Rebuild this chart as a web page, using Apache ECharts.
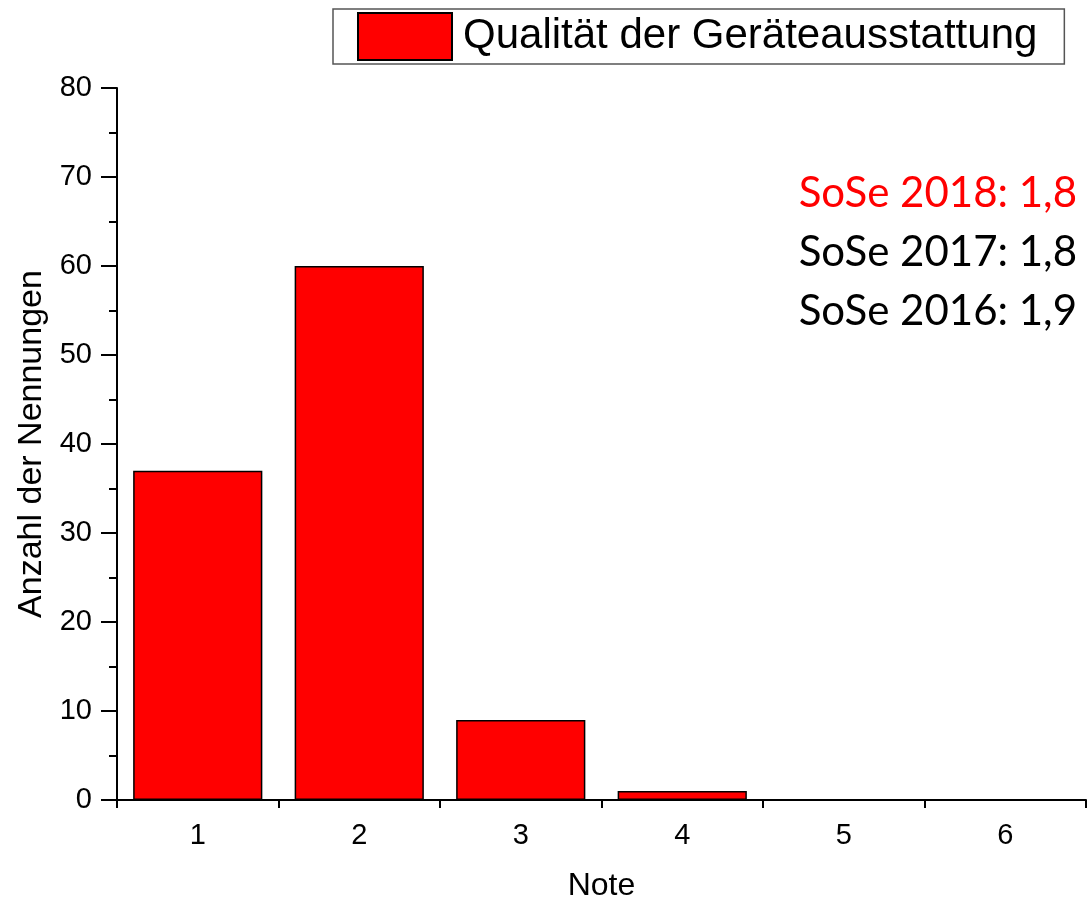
<!DOCTYPE html>
<html>
<head>
<meta charset="utf-8">
<script src="https://cdn.jsdelivr.net/npm/echarts@6/dist/echarts.min.js"></script>
<style>html,body{margin:0;padding:0;background:#fff;}#c{width:1089px;height:909px;}</style>
</head>
<body>
<div id="c"></div>
<script>
const categories = ['1', '2', '3', '4', '5', '6'];
const counts = [37, 60, 9, 1, 0, 0];
const seriesName = 'Qualität der Geräteausstattung';
const annotations = [
  { text: 'SoSe 2018: 1,8', color: '#ff0000' },
  { text: 'SoSe 2017: 1,8', color: '#000000' },
  { text: 'SoSe 2016: 1,9', color: '#000000' }
];
const yTicks = { min: 0, max: 80, interval: 10 };

const font = 'Liberation Sans, Arial, sans-serif';
const chart = echarts.init(document.getElementById('c'), null, { renderer: 'canvas' });

const option = {
  animation: false,
  backgroundColor: '#ffffff',
  grid: { left: 117, right: 3, top: 88, bottom: 109, containLabel: false },
  legend: {
    left: 333, top: 9,
    padding: [3, 27, 3, 24],
    borderColor: '#555555', borderWidth: 1.5,
    itemWidth: 94, itemHeight: 47,
    icon: 'rect',
    textStyle: { fontFamily: font, fontSize: 42, color: '#000', padding: [0, 0, 0, 6] },
    data: [seriesName]
  },
  xAxis: [
    {
      type: 'category', data: categories, position: 'bottom',
      boundaryGap: true,
      name: 'Note', nameLocation: 'middle', nameGap: 70,
      nameTextStyle: { fontFamily: font, fontSize: 32, color: '#000' },
      axisLine: { lineStyle: { color: '#000', width: 2 } },
      axisTick: { alignWithLabel: true, length: 15, lineStyle: { color: '#000', width: 2 } },
      axisLabel: { fontFamily: font, fontSize: 29, color: '#000', margin: 21 },
      splitLine: { show: false }
    },
    {
      type: 'category', data: categories, position: 'bottom',
      boundaryGap: true,
      axisLine: { show: false },
      axisTick: { show: true, length: 8, lineStyle: { color: '#000', width: 2 } },
      axisLabel: { show: false },
      splitLine: { show: false }
    }
  ],
  yAxis: {
    type: 'value', min: yTicks.min, max: yTicks.max, interval: yTicks.interval,
    name: 'Anzahl der Nennungen', nameLocation: 'middle', nameGap: 62,
    nameTextStyle: { fontFamily: font, fontSize: 34, color: '#000' },
    axisLine: { show: true, lineStyle: { color: '#000', width: 2 } },
    axisTick: { show: true, length: 16, lineStyle: { color: '#000', width: 2 } },
    minorTick: { show: true, splitNumber: 2, length: 8, lineStyle: { color: '#000', width: 2 } },
    axisLabel: { fontFamily: font, fontSize: 29, color: '#000', margin: 25 },
    splitLine: { show: false }
  },
  graphic: annotations.map((a, i) => ({
    type: 'text',
    right: 12,
    top: 172 + i * 59,
    style: { text: a.text, fill: a.color, font: '42px Lato, "Open Sans", sans-serif', textAlign: 'right' }
  })),
  series: [
    {
      name: seriesName, type: 'bar', xAxisIndex: 0,
      data: counts,
      barCategoryGap: '20%',
      itemStyle: { color: '#ff0000', borderColor: '#000', borderWidth: 1.5 }
    }
  ]
};
chart.setOption(option);
</script>
</body>
</html>
